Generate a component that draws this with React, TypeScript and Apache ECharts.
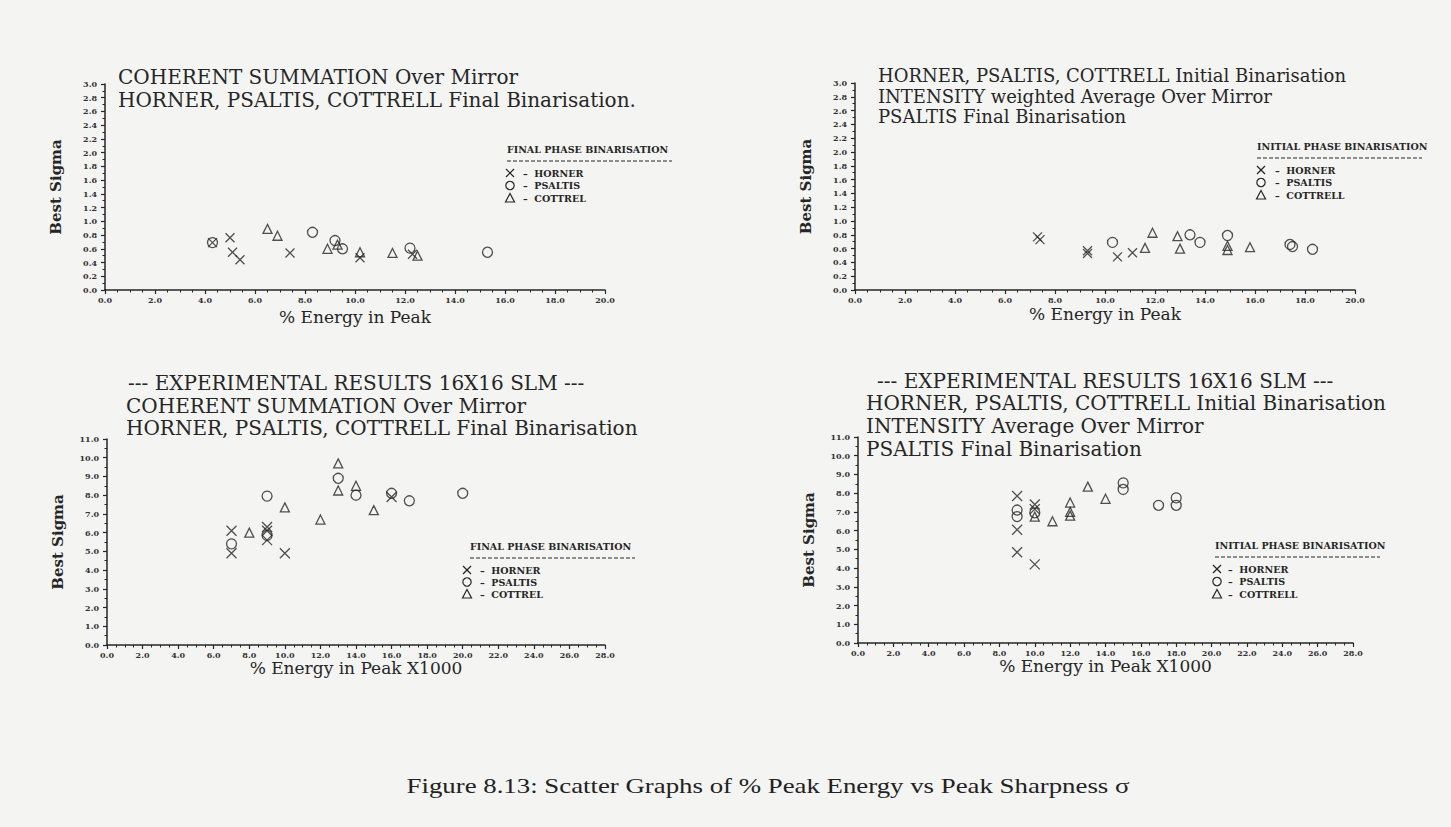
import React, { useEffect, useRef } from "react";
import * as echarts from "echarts";

// ---------- data (x = % energy in peak, y = best sigma) ----------
// Top-left: COHERENT SUMMATION, final binarisation
const tlHorner = [[4.3, 0.69], [5.0, 0.76], [5.1, 0.55], [5.4, 0.44], [7.4, 0.54], [10.2, 0.47], [12.3, 0.52]];
const tlPsaltis = [[4.3, 0.69], [8.3, 0.84], [9.2, 0.72], [9.5, 0.6], [12.2, 0.61], [15.3, 0.55]];
const tlCottrel = [[6.5, 0.89], [6.9, 0.79], [8.9, 0.6], [9.3, 0.66], [10.2, 0.55], [11.5, 0.54], [12.5, 0.5]];

// Top-right: INTENSITY weighted average, initial binarisation
const trHorner = [[7.3, 0.77], [7.4, 0.73], [9.3, 0.57], [9.3, 0.53], [10.5, 0.48], [11.1, 0.54]];
const trPsaltis = [[10.3, 0.69], [13.4, 0.8], [13.8, 0.69], [14.9, 0.79], [17.4, 0.66], [17.5, 0.63], [18.3, 0.59]];
const trCottrell = [[11.6, 0.61], [11.9, 0.83], [12.9, 0.78], [13.0, 0.6], [14.9, 0.64], [14.9, 0.58], [15.8, 0.62]];

// Bottom-left: experimental, COHERENT SUMMATION, final binarisation
const blHorner = [[7, 6.1], [7, 4.9], [9, 6.3], [9, 6.1], [9, 5.6], [10, 4.9], [16, 7.9]];
const blPsaltis = [[7, 5.4], [9, 7.95], [9, 5.85], [13, 8.9], [14, 8.0], [16, 8.1], [17, 7.7], [20, 8.1]];
const blCottrel = [[8, 6.0], [10, 7.35], [12, 6.7], [13, 9.7], [13, 8.25], [14, 8.5], [15, 7.2]];

// Bottom-right: experimental, INTENSITY average, initial binarisation
const brHorner = [[9, 7.85], [9, 6.05], [9, 4.85], [10, 7.4], [10, 7.15], [10, 4.2]];
const brPsaltis = [[9, 7.1], [9, 6.75], [10, 6.95], [15, 8.55], [15, 8.2], [17, 7.35], [18, 7.75], [18, 7.35]];
const brCottrell = [[10, 6.75], [11, 6.5], [12, 7.5], [12, 7.0], [12, 6.8], [13, 8.35], [14, 7.7]];

// ---------- texts ----------
const titleTL = ["COHERENT SUMMATION Over Mirror", "HORNER, PSALTIS, COTTRELL Final Binarisation."];
const titleTR = ["HORNER, PSALTIS, COTTRELL Initial Binarisation", "INTENSITY weighted Average Over Mirror", "PSALTIS Final Binarisation"];
const titleBL = ["--- EXPERIMENTAL RESULTS 16X16 SLM ---", "COHERENT SUMMATION Over Mirror", "HORNER, PSALTIS, COTTRELL Final Binarisation"];
const titleBR = ["--- EXPERIMENTAL RESULTS 16X16 SLM ---", "HORNER, PSALTIS, COTTRELL Initial Binarisation", "INTENSITY Average Over Mirror", "PSALTIS Final Binarisation"];
const legendFinal = ["HORNER", "PSALTIS", "COTTREL"];
const legendInitial = ["HORNER", "PSALTIS", "COTTRELL"];
const caption = "Figure 8.13: Scatter Graphs of % Peak Energy vs Peak Sharpness \u03c3";

const SERIF = "'DejaVu Serif', serif";
const INK = "#262626";
const CROSS = "path://M0,0L10,10M10,0L0,10";

function xAxis(gridIndex: number, max: number, name: string, nameGap: number) {
  return {
    type: "value", gridIndex, min: 0, max, interval: 2,
    name, nameLocation: "middle", nameGap,
    nameTextStyle: { fontFamily: SERIF, fontSize: 17, color: INK },
    axisLine: { show: true, onZero: false, lineStyle: { color: INK, width: 1.5 } },
    axisTick: { show: true, length: 4, lineStyle: { color: INK, width: 1.2 } },
    minorTick: { show: true, splitNumber: 4, length: 2.5, lineStyle: { color: INK, width: 1 } },
    axisLabel: { fontFamily: SERIF, fontSize: 8, fontWeight: "bold", color: "#333", margin: 6, hideOverlap: false,
      formatter: (v: number) => v.toFixed(1) },
    splitLine: { show: false }, minorSplitLine: { show: false },
  };
}
function yAxis(gridIndex: number, max: number, interval: number) {
  return {
    type: "value", gridIndex, min: 0, max, interval,
    name: "Best Sigma", nameLocation: "middle", nameGap: 42,
    nameTextStyle: { fontFamily: SERIF, fontSize: 15, fontWeight: "bold", color: INK },
    axisLine: { show: true, onZero: false, lineStyle: { color: INK, width: 1.5 } },
    axisTick: { show: true, length: 4, lineStyle: { color: INK, width: 1.2 } },
    minorTick: { show: true, splitNumber: 2, length: 2.5, lineStyle: { color: INK, width: 1 } },
    axisLabel: { fontFamily: SERIF, fontSize: 8, fontWeight: "bold", color: "#333", margin: 8, hideOverlap: false,
      formatter: (v: number) => v.toFixed(1) },
    splitLine: { show: false }, minorSplitLine: { show: false },
  };
}
function scatter(name: string, idx: number, data: number[][], kind: number, size: number) {
  const symbol = kind === 0 ? CROSS : kind === 1 ? "circle" : "triangle";
  return {
    type: "scatter", name, xAxisIndex: idx, yAxisIndex: idx, data,
    symbol, symbolSize: kind === 2 ? size - 1 : size,
    itemStyle: { color: "transparent", borderColor: INK, borderWidth: 1.3 },
    emphasis: { disabled: true },
  };
}
function titleLines(lines: string[], xs: number[], ys: number[], size: number) {
  return lines.map((t, i) => ({
    type: "text", x: xs[i], y: ys[i],
    style: { text: t, fontFamily: SERIF, fontSize: size, fill: INK, align: "left", verticalAlign: "middle" },
  }));
}
function legend(x: number, y: number, title: string, names: string[], symX: number, textX: number, gap: number) {
  const els: any[] = [];
  els.push({ type: "text", x, y, style: { text: title, fontFamily: SERIF, fontSize: 9.5, fontWeight: "bold", fill: INK, verticalAlign: "middle" } });
  els.push({ type: "line", shape: { x1: x, y1: y + 12, x2: x + 165, y2: y + 12 }, style: { stroke: INK, lineWidth: 1, lineDash: [4, 2] } });
  names.forEach((n, i) => {
    const cy = y + 24 + i * gap;
    const sx = x + symX;
    if (i === 0) {
      els.push({ type: "line", shape: { x1: sx - 4, y1: cy - 4, x2: sx + 4, y2: cy + 4 }, style: { stroke: INK, lineWidth: 1.2 } });
      els.push({ type: "line", shape: { x1: sx + 4, y1: cy - 4, x2: sx - 4, y2: cy + 4 }, style: { stroke: INK, lineWidth: 1.2 } });
    } else if (i === 1) {
      els.push({ type: "circle", shape: { cx: sx, cy, r: 4.2 }, style: { fill: "none", stroke: INK, lineWidth: 1.2 } });
    } else {
      els.push({ type: "polygon", shape: { points: [[sx, cy - 4.5], [sx + 4.5, cy + 4], [sx - 4.5, cy + 4]] }, style: { fill: "none", stroke: INK, lineWidth: 1.2 } });
    }
    els.push({ type: "text", x: x + textX, y: cy, style: { text: "\u2013  " + n, fontFamily: SERIF, fontSize: 9.5, fontWeight: "bold", fill: INK, verticalAlign: "middle" } });
  });
  return els;
}

export default function App() {
  const ref = useRef<HTMLDivElement>(null);
  useEffect(() => {
    document.body.style.margin = "0";
    if (!ref.current) return;
    const chart = echarts.init(ref.current, undefined, { renderer: "svg" });
    const option: any = {
      animation: false,
      backgroundColor: "#f4f4f2",
      grid: [
        { left: 105, top: 84, width: 500, height: 206 },
        { left: 855, top: 83, width: 500, height: 207 },
        { left: 107, top: 439, width: 498, height: 206 },
        { left: 858, top: 437, width: 495, height: 206 },
      ],
      xAxis: [
        xAxis(0, 20, "% Energy in Peak", 18.5),
        xAxis(1, 20, "% Energy in Peak", 15.5),
        xAxis(2, 28, "% Energy in Peak X1000", 11),
        xAxis(3, 28, "% Energy in Peak X1000", 12.5),
      ],
      yAxis: [yAxis(0, 3, 0.2), yAxis(1, 3, 0.2), yAxis(2, 11, 1), yAxis(3, 11, 1)],
      series: [
        scatter("HORNER", 0, tlHorner, 0, 9), scatter("PSALTIS", 0, tlPsaltis, 1, 10), scatter("COTTREL", 0, tlCottrel, 2, 10),
        scatter("HORNER", 1, trHorner, 0, 9), scatter("PSALTIS", 1, trPsaltis, 1, 10), scatter("COTTRELL", 1, trCottrell, 2, 10),
        scatter("HORNER", 2, blHorner, 0, 10), scatter("PSALTIS", 2, blPsaltis, 1, 10), scatter("COTTREL", 2, blCottrel, 2, 10),
        scatter("HORNER", 3, brHorner, 0, 10), scatter("PSALTIS", 3, brPsaltis, 1, 10), scatter("COTTRELL", 3, brCottrell, 2, 10),
      ],
      graphic: {
        elements: [
          ...titleLines(titleTL, [118, 118], [77, 100], 20),
          ...titleLines(titleTR, [878, 878, 878], [75, 96, 116], 18),
          ...titleLines(titleBL, [128, 126, 126], [383, 406, 428], 20),
          ...titleLines(titleBR, [877, 866, 866, 866], [381, 403, 426, 449], 20),
          ...legend(507, 149, "FINAL PHASE BINARISATION", legendFinal, 3, 16, 12.5),
          ...legend(1257, 146, "INITIAL PHASE BINARISATION", legendInitial, 4, 18, 12.5),
          ...legend(470, 546, "FINAL PHASE BINARISATION", legendFinal, -3, 10, 12),
          ...legend(1215, 545, "INITIAL PHASE BINARISATION", legendInitial, 2, 13, 12.5),
          {
            type: "text", x: 768, y: 785, scaleX: 1.22,
            style: { text: caption, fontFamily: "'Liberation Serif', serif", fontSize: 22, fill: "#222", align: "center", verticalAlign: "middle" },
          },
        ],
      },
    };
    chart.setOption(option);
    return () => chart.dispose();
  }, []);
  return <div ref={ref} style={{ width: 1451, height: 827 }} />;
}
